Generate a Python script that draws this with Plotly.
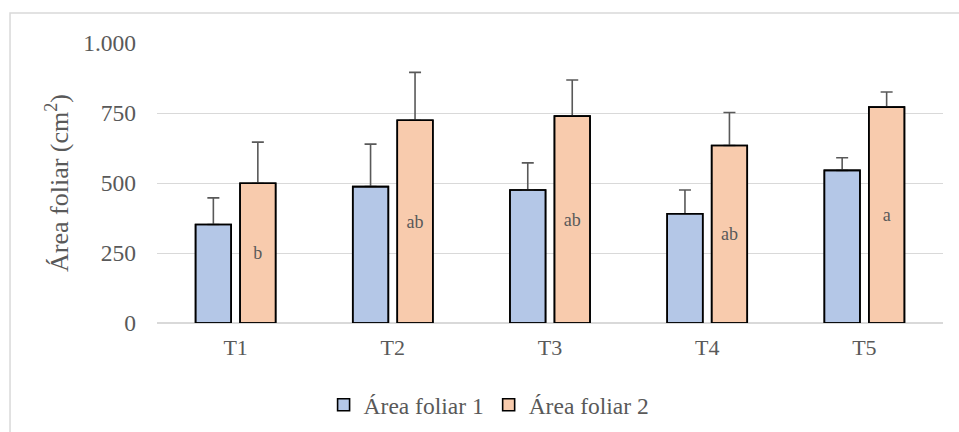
import plotly.graph_objects as go

categories = ["T1", "T2", "T3", "T4", "T5"]
area1 = [352, 487, 475, 390, 545]
area1_err = [95, 152, 97, 85, 45]
area2 = [499, 724, 739, 634, 771]
area2_err = [147, 171, 129, 118, 54]
letters2 = ["b", "ab", "ab", "ab", "a"]
y_tickvals = [0, 250, 500, 750, 1000]
y_ticktext = ["0", "250", "500", "750", "1.000"]

FONT = "Liberation Serif, Times New Roman, serif"
GREY_TXT = "#595959"
OUTLINE = dict(color="#000000", width=1.6)

fig = go.Figure()
fig.add_trace(go.Bar(
    x=categories, y=area1, name="Área foliar 1", offsetgroup="1",
    marker=dict(color="#B4C7E7", line=OUTLINE),
    error_y=dict(type="data", array=area1_err, arrayminus=[0]*len(area1_err),
                 symmetric=False, color="#595959", thickness=1.6, width=6),
))
fig.add_trace(go.Bar(
    x=categories, y=area2, name="Área foliar 2", offsetgroup="2",
    marker=dict(color="#F8CBAD", line=OUTLINE),
    error_y=dict(type="data", array=area2_err, arrayminus=[0]*len(area2_err),
                 symmetric=False, color="#595959", thickness=1.6, width=6),
    text=letters2, textposition="inside", insidetextanchor="middle",
    textangle=0, constraintext="none",
    textfont=dict(family=FONT, size=18, color=GREY_TXT),
))
# outline-only copies drawn on top so the bar edges sit above the error-bar base caps
fig.add_trace(go.Bar(
    x=categories, y=area1, offsetgroup="1", showlegend=False, hoverinfo="skip",
    marker=dict(color="rgba(0,0,0,0)", line=OUTLINE),
))
fig.add_trace(go.Bar(
    x=categories, y=area2, offsetgroup="2", showlegend=False, hoverinfo="skip",
    marker=dict(color="rgba(0,0,0,0)", line=OUTLINE),
))

fig.update_layout(
    width=959, height=432,
    margin=dict(l=157, r=16, t=43, b=109),
    paper_bgcolor="white", plot_bgcolor="white",
    barmode="group", bargap=0.434, bargroupgap=0.2,
    font=dict(family=FONT, color=GREY_TXT, size=21),
    showlegend=True,
    legend=dict(orientation="h", xref="container", yref="container",
                x=0.51, xanchor="center", y=0.0625, yanchor="middle",
                font=dict(family=FONT, size=23.5, color=GREY_TXT),
                itemwidth=30, bgcolor="rgba(0,0,0,0)"),
    shapes=[dict(type="rect", xref="paper", yref="paper",
                 x0=-0.187, x1=1.25, y0=-0.45, y1=1.107,
                 line=dict(color="#D9D9D9", width=1.5), layer="below")],
)
fig.update_yaxes(
    range=[0, 1000], tickvals=y_tickvals, ticktext=y_ticktext,
    showgrid=True, gridcolor="#D9D9D9", gridwidth=1,
    zeroline=True, zerolinecolor="#D9D9D9", zerolinewidth=1.5,
    showline=False, ticks="", ticklabelstandoff=20,
    tickfont=dict(family=FONT, size=23.5, color=GREY_TXT),
    title=dict(text="Área foliar (cm<sup>2</sup>)", standoff=7,
               font=dict(family=FONT, size=26, color=GREY_TXT)),
    automargin=False,
)
fig.update_xaxes(
    showline=False, ticks="", ticklabelstandoff=9,
    tickfont=dict(family=FONT, size=22, color=GREY_TXT),
    automargin=False,
)

fig.write_html("out.html")
